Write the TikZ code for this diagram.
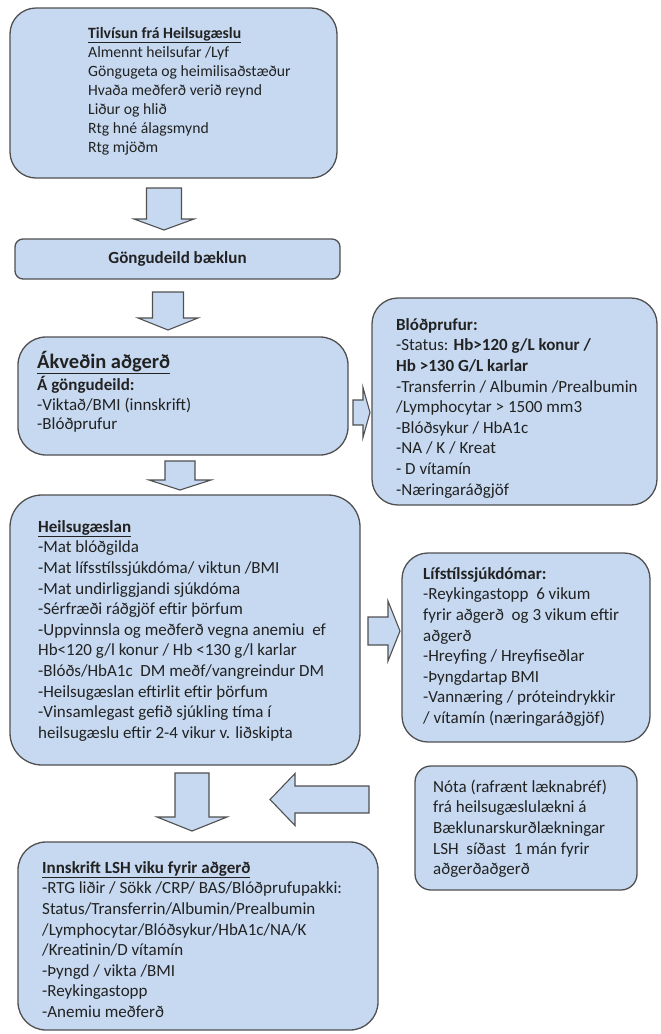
\documentclass[tikz,border=0pt]{standalone}
\usepackage{fontspec}
\setmainfont{Carlito}
\definecolor{boxfill}{HTML}{C6D9F1}
\definecolor{boxline}{HTML}{505050}
\definecolor{txtcol}{HTML}{222222}
\tikzset{
  box/.style={draw=boxline, fill=boxfill, line width=1.3pt, inner sep=0pt},
  blk/.style={draw=boxline, fill=boxfill, line width=1.1pt, line join=miter},
  txt/.style={anchor=north west, inner sep=0pt, align=left, text=txtcol,
    font=\fontsize{17}{20.6}\selectfont},
  txtsm/.style={txt, font=\fontsize{15.7}{19}\selectfont},
}
\newcommand\fs{\rule{0pt}{14pt}}
\newcommand\dnarrow[6]{% cx, top, shafthalf, headstart, headhalf, tip
  \draw[blk] ({#1-#3},#2) -- ({#1+#3},#2) -- ({#1+#3},#4) -- ({#1+#5},#4) -- (#1,#6)
    -- ({#1-#5},#4) -- ({#1-#3},#4) -- cycle;}
\newcommand\rtarrow[6]{% cy, left, shafthalf, headstart, headhalf, tip
  \draw[blk] (#2,{#1-#3}) -- (#2,{#1+#3}) -- (#4,{#1+#3}) -- (#4,{#1+#5}) -- (#6,#1)
    -- (#4,{#1-#5}) -- (#4,{#1-#3}) -- cycle;}
\begin{document}
\begin{tikzpicture}[x=1pt,y=-1pt]
\useasboundingbox (0,0) rectangle (661,1034);
% boxes
\node[box, rounded corners=26pt, minimum width=327pt, minimum height=170pt] (b1) at (173.5,93) {};
\node[box, rounded corners=8pt, minimum width=325pt, minimum height=40pt] (b2) at (177.5,259) {};
\node[box, rounded corners=28pt, minimum width=330pt, minimum height=118pt] (b3) at (183,396) {};
\node[box, rounded corners=26pt, minimum width=285pt, minimum height=207pt] (b5) at (514.5,401.5) {};
\node[box, rounded corners=32pt, minimum width=350pt, minimum height=270pt] (b4) at (185,630) {};
\node[box, rounded corners=26pt, minimum width=248pt, minimum height=189pt] (b6) at (526,647.5) {};
\node[box, rounded corners=16pt, minimum width=222pt, minimum height=124pt] (b7) at (526,828) {};
\node[box, rounded corners=28pt, minimum width=360pt, minimum height=188pt] (b8) at (198,936) {};
% arrows
\dnarrow{164}{188}{17.5}{219}{30}{230}
\dnarrow{168}{292}{15.5}{318}{30}{330}
\dnarrow{180}{461}{15}{480}{31}{490}
\dnarrow{192}{773}{17}{817}{35}{831}
\rtarrow{412.5}{353}{12.5}{363}{25}{370}
\rtarrow{631}{368}{14}{388}{30}{400}
\rtarrow{799.5}{369}{13.5}{295}{26}{270}
% texts
\node[txtsm] (t1) at (88,25) {\rule{0pt}{13pt}\textbf{\underline{Tilvísun frá Heilsugæslu}}\\
Almennt heilsufar /Lyf\\
Göngugeta og heimilisaðstæður\\
Hvaða meðferð verið reynd\\
Liður og hlið\\
Rtg hné álagsmynd\\
Rtg mjöðm};
\node[inner sep=0pt, text=txtcol, font=\fontsize{17}{20}\selectfont\bfseries] (t2) at (b2.center) {Göngudeild bæklun};
\node[anchor=base west, inner sep=0pt, text=txtcol, font=\fontsize{20.5}{24}\selectfont\bfseries] (t3a) at (37,368) {\underline{Ákveðin aðgerð}};
\node[txt, font=\fontsize{17}{19.7}\selectfont] (t3) at (37,376) {\fs\textbf{Á göngudeild:}\\
-Viktað/BMI (innskrift)\\
-Blóðprufur};
\node[txt] (t5) at (396,316) {\fs\textbf{Blóðprufur:}\\
-Status: \textbf{Hb>120 g/L konur /}\\
\textbf{Hb >130 G/L karlar}\\
-Transferrin / Albumin /Prealbumin\\
/Lymphocytar > 1500 mm3\\
-Blóðsykur / HbA1c\\
-NA / K / Kreat\\
- D vítamín\\
-Næringaráðgjöf};
\node[txt] (t4) at (38,518) {\fs\textbf{\underline{Heilsugæslan}}\\
-Mat blóðgilda\\
-Mat lífsstílssjúkdóma/ viktun /BMI\\
-Mat undirliggjandi sjúkdóma\\
-Sérfræði ráðgjöf eftir þörfum\\
-Uppvinnsla og meðferð vegna anemiu\ \ ef\\
Hb<120 g/l konur / Hb <130 g/l karlar\\
-Blóðs/HbA1c\ \ DM meðf/vangreindur DM\\
-Heilsugæslan eftirlit eftir þörfum\\
-Vinsamlegast gefið sjúkling tíma í\\
heilsugæslu eftir 2-4 vikur v. liðskipta};
\node[txt] (t6) at (423,565) {\fs\textbf{Lífstílssjúkdómar:}\\
-Reykingastopp\ \ 6 vikum\\
fyrir aðgerð\ \ og 3 vikum eftir\\
aðgerð\\
-Hreyfing / Hreyfiseðlar\\
-Þyngdartap BMI\\
-Vannæring / próteindrykkir\\
/ vítamín (næringaráðgjöf)};
\node[txt] (t7) at (433,778) {\fs Nóta (rafrænt læknabréf)\\
frá heilsugæslulækni á\\
Bæklunarskurðlækningar\\
LSH\ \ síðast\ \ 1 mán fyrir\\
aðgerðaðgerð};
\node[txt] (t8) at (42,859) {\fs\textbf{\underline{Innskrift LSH viku fyrir aðgerð}}\\
-RTG liðir / Sökk /CRP/ BAS/Blóðprufupakki:\\
Status/Transferrin/Albumin/Prealbumin\\
/Lymphocytar/Blóðsykur/HbA1c/NA/K\\
/Kreatinin/D vítamín\\
-Þyngd / vikta /BMI\\
-Reykingastopp\\
-Anemiu meðferð};
\end{tikzpicture}
\end{document}
